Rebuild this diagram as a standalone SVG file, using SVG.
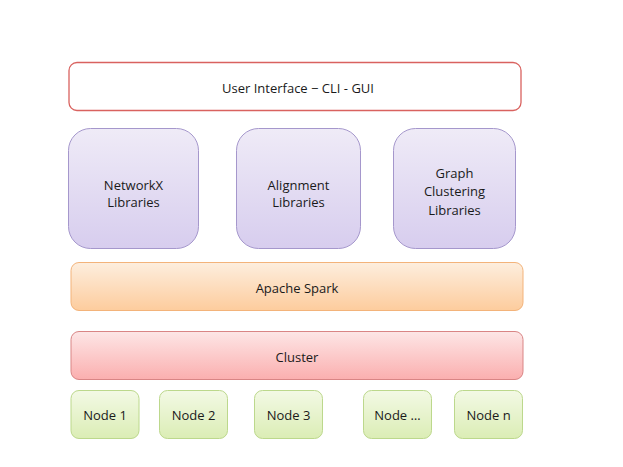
<svg xmlns="http://www.w3.org/2000/svg" width="623" height="467" viewBox="0 0 623 467">
<defs>
<linearGradient id="gPurple" x1="0" y1="0" x2="0" y2="1"><stop offset="0" stop-color="#efebf7"/><stop offset="1" stop-color="#d7cdee"/></linearGradient>
<linearGradient id="gOrange" x1="0" y1="0" x2="0" y2="1"><stop offset="0" stop-color="#fdeede"/><stop offset="1" stop-color="#fdcc9d"/></linearGradient>
<linearGradient id="gRed" x1="0" y1="0" x2="0" y2="1"><stop offset="0" stop-color="#fde6e6"/><stop offset="1" stop-color="#fbafaf"/></linearGradient>
<linearGradient id="gGreen" x1="0" y1="0" x2="0" y2="1"><stop offset="0" stop-color="#f3f9e5"/><stop offset="1" stop-color="#dbedb5"/></linearGradient>
</defs>
<style>
text{font-family:"Open Sans","Liberation Sans",sans-serif;font-size:13px;fill:#1a1a1a;text-anchor:middle}
.ui{fill:#fff;stroke:#d9625f;stroke-width:1.3}
.lib{fill:url(#gPurple);stroke:#a597cc;stroke-width:1}
.spark{fill:url(#gOrange);stroke:#f3b37a;stroke-width:1}
.cl{fill:url(#gRed);stroke:#d98585;stroke-width:1}
.nd{fill:url(#gGreen);stroke:#bcd88c;stroke-width:1}
</style>
<rect width="623" height="467" fill="#fff"/>
<g id="ui"><rect class="ui" x="69" y="62.5" width="452" height="48" rx="8"/><text x="298" y="92.5">User Interface − CLI - GUI</text></g>
<g id="networkx"><rect class="lib" x="68.5" y="128.5" width="130" height="120" rx="22"/><text x="133.5" y="189.5">NetworkX</text><text x="133.5" y="206.5">Libraries</text></g>
<g id="alignment"><rect class="lib" x="236.5" y="128.5" width="124" height="120" rx="22"/><text x="298.5" y="189.5">Alignment</text><text x="298.5" y="206.5">Libraries</text></g>
<g id="clustering"><rect class="lib" x="393.5" y="128.5" width="122" height="120" rx="22"/><text x="454.5" y="177.5">Graph</text><text x="454.5" y="196">Clustering</text><text x="454.5" y="214.5">Libraries</text></g>
<g id="spark"><rect class="spark" x="71" y="262.5" width="452" height="48" rx="8"/><text x="297" y="293">Apache Spark</text></g>
<g id="cluster"><rect class="cl" x="71" y="331.5" width="452" height="48" rx="8"/><text x="297" y="362">Cluster</text></g>
<g id="node1"><rect class="nd" x="71" y="390.5" width="68" height="48" rx="8"/><text x="105" y="419.5">Node 1</text></g>
<g id="node2"><rect class="nd" x="159.5" y="390.5" width="68" height="48" rx="8"/><text x="193.5" y="419.5">Node 2</text></g>
<g id="node3"><rect class="nd" x="254.5" y="390.5" width="68" height="48" rx="8"/><text x="288.5" y="419.5">Node 3</text></g>
<g id="nodedots"><rect class="nd" x="363.5" y="390.5" width="68" height="48" rx="8"/><text x="397.5" y="419.5">Node …</text></g>
<g id="noden"><rect class="nd" x="454.5" y="390.5" width="68" height="48" rx="8"/><text x="488.5" y="419.5">Node n</text></g>
<g id="connectors"></g>
</svg>
